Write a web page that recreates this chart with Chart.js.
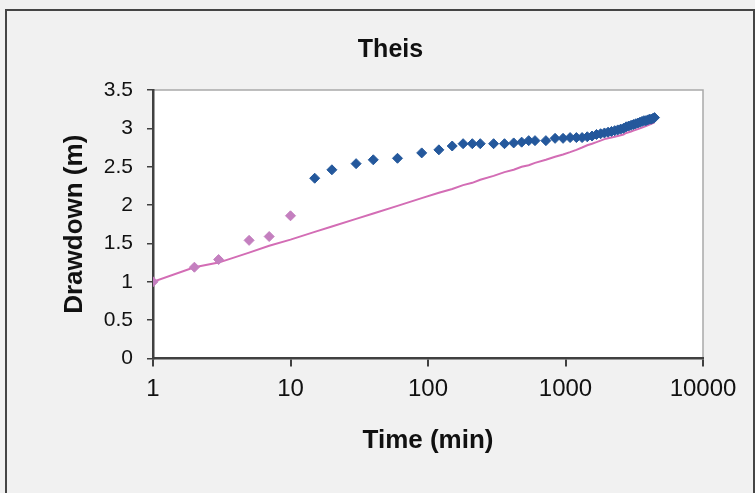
<!DOCTYPE html>
<html>
<head>
<meta charset="utf-8">
<script src="https://cdn.jsdelivr.net/npm/chart.js@4/dist/chart.umd.min.js"></script>
<style>
  html, body { margin: 0; padding: 0; background: #f1f1f1; overflow: hidden; }
  #frame { position: absolute; left: 5px; top: 9px; width: 746px; height: 500px; border: 2px solid #454545; }
  #theisChart { position: absolute; left: 0; top: 0; }
</style>
</head>
<body>
<div id="frame"></div>
<canvas id="theisChart" width="755" height="493"></canvas>
<script>
// early observations (pink) and later observations (blue), time in min
const earlyTime = [1, 2, 3, 5, 7, 10];
const earlyDrawdown = [1.00, 1.19, 1.29, 1.54, 1.59, 1.86];

const lateTime = [15, 20, 30, 40, 60, 90, 120, 150, 180, 210, 240, 300, 360, 420, 480, 540, 600, 720, 840, 960, 1080, 1200, 1320,
  1440, 1560, 1680, 1800, 1920, 2040, 2160, 2280, 2400, 2520, 2640, 2760, 2880, 3000, 3120, 3240, 3360, 3480, 3600, 3720, 3840, 3960, 4080, 4200, 4320, 4440];
const lateDrawdown = [2.35, 2.46, 2.54, 2.59, 2.61, 2.68, 2.72, 2.77, 2.80, 2.80, 2.80, 2.80, 2.80, 2.81, 2.82, 2.84, 2.84, 2.84, 2.87, 2.87, 2.88, 2.88, 2.88,
  2.89, 2.90, 2.92, 2.93, 2.94, 2.95, 2.96, 2.97, 2.98, 2.99, 3.00, 3.02, 3.03, 3.04, 3.05, 3.06, 3.07, 3.08, 3.09, 3.10, 3.10, 3.11, 3.12, 3.12, 3.13, 3.14];

// Theis type curve at the same times
const theisTime = earlyTime.concat(lateTime);
const theisDrawdown = [1.00, 1.19, 1.25, 1.38, 1.47, 1.55,
  1.65, 1.72, 1.82, 1.89, 1.99, 2.09, 2.16, 2.21, 2.26, 2.29, 2.33, 2.38, 2.43, 2.46, 2.50, 2.52, 2.55, 2.59, 2.63, 2.66, 2.69, 2.72, 2.75,
  2.78, 2.80, 2.82, 2.84, 2.86, 2.87, 2.88, 2.89, 2.90, 2.91, 2.92, 2.94, 2.95, 2.96, 2.97, 2.98, 2.99, 3.00, 3.01, 3.02, 3.03, 3.04, 3.05, 3.06, 3.07, 3.08];

const xTickValues = [1, 10, 100, 1000, 10000];

const toPoints = (xs, ys) => xs.map((x, i) => ({ x: x, y: ys[i] }));

const plotBackground = {
  id: "plotBackground",
  afterLayout(chart) {
    // Excel puts the title a bit right of the canvas centre
    if (chart.titleBlock) chart.titleBlock.left = 78;
  },
  beforeDraw(chart) {
    const { ctx, chartArea: a } = chart;
    ctx.save();
    ctx.fillStyle = "#ffffff";
    ctx.fillRect(a.left, a.top, a.right - a.left, a.bottom - a.top);
    ctx.strokeStyle = "#a9a9a9";
    ctx.lineWidth = 1.5;
    ctx.beginPath();
    ctx.moveTo(a.left, a.top);
    ctx.lineTo(a.right, a.top);
    ctx.lineTo(a.right, a.bottom);
    ctx.stroke();
    ctx.restore();
  },
};

const config = {
  type: "scatter",
  data: {
    datasets: [
      {
        data: toPoints(lateTime, lateDrawdown),
        backgroundColor: "#24589c",
        borderColor: "#24589c",
        pointStyle: "rectRot",
        pointRadius: 5,
        showLine: false,
      },
      {
        data: toPoints(earlyTime, earlyDrawdown),
        backgroundColor: "#c47fbf",
        borderColor: "#c47fbf",
        pointStyle: "rectRot",
        pointRadius: 5,
        showLine: false,
      },
      {
        data: toPoints(theisTime, theisDrawdown),
        borderColor: "#d36db5",
        borderWidth: 2,
        pointRadius: 0,
        showLine: true,
        fill: false,
      },
    ],
  },
  options: {
    responsive: false,
    animation: false,
    layout: {
      padding: { left: 0, right: 52, top: 0, bottom: 0 },
    },
    plugins: {
      legend: { display: false },
      tooltip: { enabled: false },
      title: {
        display: true,
        text: "Theis",
        color: "#111",
        font: { family: "Liberation Sans, Arial", size: 25, weight: "bold" },
        padding: { top: 35, bottom: 25 },
      },
    },
    scales: {
      x: {
        type: "logarithmic",
        min: 1,
        max: 10000,
        afterBuildTicks: (scale) => {
          scale.ticks = xTickValues.map((v) => ({ value: v }));
        },
        afterFit: (scale) => {
          scale.height = 134.5;
        },
        ticks: {
          color: "#111",
          font: { family: "Liberation Sans, Arial", size: 24 },
          padding: 8,
          maxRotation: 0,
          autoSkip: false,
          callback: (v) => String(v),
        },
        grid: {
          drawOnChartArea: false,
          drawTicks: true,
          tickLength: 8,
          color: "#404040",
          lineWidth: 2,
        },
        border: { display: true, color: "#404040", width: 2.5 },
        title: {
          display: true,
          text: "Time (min)",
          color: "#111",
          font: { family: "Liberation Sans, Arial", size: 26, weight: "bold" },
          padding: { top: 0, bottom: 37 },
        },
      },
      y: {
        min: 0,
        max: 3.5,
        afterFit: (scale) => {
          scale.width = 153;
        },
        ticks: {
          stepSize: 0.5,
          color: "#111",
          font: { family: "Liberation Sans, Arial", size: 21 },
          padding: 14,
          callback: (v) => String(Number(v.toFixed(1))),
        },
        grid: {
          drawOnChartArea: false,
          drawTicks: true,
          tickLength: 6,
          color: "#404040",
          lineWidth: 1.5,
        },
        border: { display: true, color: "#404040", width: 2.5 },
        title: {
          display: true,
          text: "Drawdown (m)",
          color: "#111",
          font: { family: "Liberation Sans, Arial", size: 26, weight: "bold" },
          padding: { top: 59, bottom: 0 },
        },
      },
    },
  },
  plugins: [plotBackground],
};

document.addEventListener("DOMContentLoaded", () => {
  const ctx = document.getElementById("theisChart").getContext("2d");
  new Chart(ctx, config);
});
</script>
</body>
</html>
